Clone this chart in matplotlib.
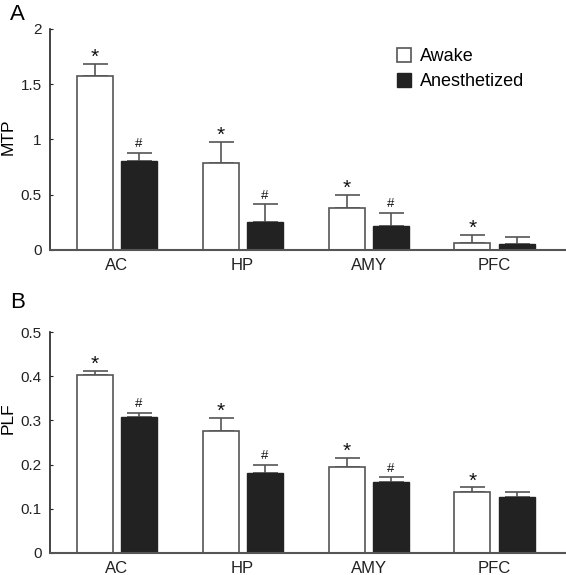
import matplotlib
matplotlib.use("Agg")
import matplotlib.pyplot as plt
import numpy as np

plt.rcParams['font.family'] = ['Liberation Sans', 'DejaVu Sans']

regions = ["AC", "HP", "AMY", "PFC"]
mtp_awake = [1.575, 0.79, 0.38, 0.063]
mtp_awake_err = [0.11, 0.19, 0.12, 0.073]
mtp_anest = [0.805, 0.255, 0.22, 0.05]
mtp_anest_err = [0.073, 0.16, 0.115, 0.07]
mtp_awake_marks = ["*", "*", "*", "*"]
mtp_anest_marks = ["#", "#", "#", ""]

plf_awake = [0.402, 0.276, 0.195, 0.138]
plf_awake_err = [0.01, 0.03, 0.02, 0.011]
plf_anest = [0.307, 0.181, 0.16, 0.127]
plf_anest_err = [0.01, 0.018, 0.011, 0.011]
plf_awake_marks = ["*", "*", "*", "*"]
plf_anest_marks = ["#", "#", "#", ""]

W, H = 566, 575
fig = plt.figure(figsize=(W / 100, H / 100), dpi=100)

def px_axes(l, t, r, b):
    return fig.add_axes([l / W, 1 - b / H, (r - l) / W, (b - t) / H])

edge = "#555555"
black = "#222222"
width = 0.286
off = 0.175

def panel(ax, awake, awake_err, anest, anest_err, amarks, bmarks, ylim, yticks, yticklabels, ylabel):
    x = np.arange(len(regions))
    z = [0] * len(regions)
    ax.bar(x - off, awake, width, color="white", edgecolor=edge, linewidth=1.2, zorder=2,
           label="Awake")
    ax.bar(x + off, anest, width, color=black, edgecolor=black, linewidth=1.0, zorder=2,
           label="Anesthetized")
    ax.errorbar(x - off, awake, yerr=[z, awake_err], fmt="none", ecolor=edge,
                elinewidth=1.2, capsize=9, capthick=1.2, zorder=1)
    ax.errorbar(x + off, anest, yerr=[z, anest_err], fmt="none", ecolor=edge,
                elinewidth=1.2, capsize=9, capthick=1.2, zorder=1)
    for i in range(len(regions)):
        if amarks[i]:
            ax.annotate(amarks[i], (x[i] - off, awake[i] + awake_err[i]), xytext=(0, 0.5),
                        textcoords="offset points", ha="center", va="baseline",
                        fontsize=15, color="#111111")
        if bmarks[i]:
            ax.annotate(bmarks[i], (x[i] + off, anest[i] + anest_err[i]), xytext=(0, 4),
                        textcoords="offset points", ha="center", va="baseline",
                        fontsize=9.5, color="#111111")
    ax.set_xlim(-0.53, 3.56)
    ax.set_ylim(*ylim)
    ax.set_xticks(x)
    ax.set_xticklabels(regions, fontsize=12)
    ax.set_yticks(yticks)
    ax.set_yticklabels(yticklabels, fontsize=11)
    ax.tick_params(axis="x", length=0, pad=6, colors="#222222")
    ax.tick_params(axis="y", length=2, direction="in", pad=6, colors="#222222")
    for s in ["top", "right"]:
        ax.spines[s].set_visible(False)
    ax.spines["left"].set_color("#222222")
    ax.spines["bottom"].set_color("#555555")
    ax.spines["left"].set_linewidth(1.2)
    ax.spines["bottom"].set_linewidth(1.5)
    ax.set_ylabel(ylabel, fontsize=12.5)

axA = px_axes(50, 29, 565, 250)
panel(axA, mtp_awake, mtp_awake_err, mtp_anest, mtp_anest_err, mtp_awake_marks, mtp_anest_marks,
      (0, 2), [0, 0.5, 1, 1.5, 2], ["0", "0.5", "1", "1.5", "2"], "MTP")
axA.yaxis.set_label_coords(-34 / 515, 0.511)

axB = px_axes(50, 332, 565, 553)
panel(axB, plf_awake, plf_awake_err, plf_anest, plf_anest_err, plf_awake_marks, plf_anest_marks,
      (0, 0.5), [0, 0.1, 0.2, 0.3, 0.4, 0.5], ["0", "0.1", "0.2", "0.3", "0.4", "0.5"], "PLF")
axB.yaxis.set_label_coords(-34 / 515, 0.611)

leg = axA.legend(loc="upper left", bbox_to_anchor=(340 / 515, 1 - 12 / 221), frameon=False,
                 fontsize=13, handlelength=0.75, handleheight=0.75, handletextpad=0.5,
                 labelspacing=0.45, borderaxespad=0)

fig.text(10 / W, 1 - 14 / H, "A", fontsize=16, va="center", ha="left")
fig.text(10 / W, 1 - 302 / H, "B", fontsize=16, va="center", ha="left")

fig.savefig("out.png", dpi=100)
